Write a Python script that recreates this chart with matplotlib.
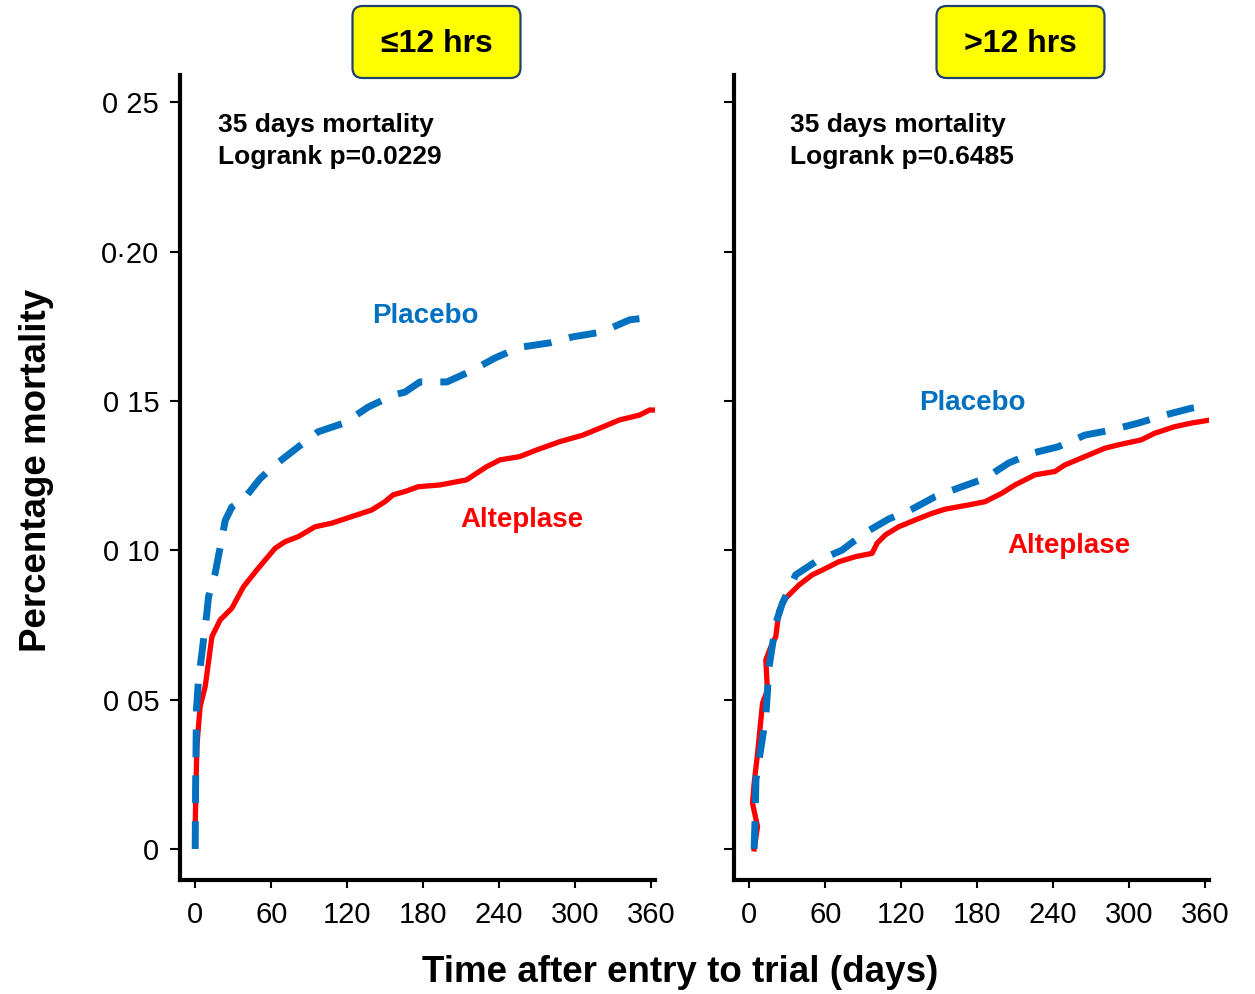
import matplotlib
matplotlib.use("Agg")
import matplotlib.pyplot as plt
from matplotlib.patches import FancyBboxPatch
from matplotlib.transforms import IdentityTransform
from matplotlib import font_manager

plt.rcParams['font.family'] = ['Liberation Sans', 'DejaVu Sans']

_names = {f.name for f in font_manager.fontManager.ttflist}
TICK_FAMILY = ['Liberation Sans Narrow', 'Liberation Sans'] if 'Liberation Sans Narrow' in _names \
    else ['Liberation Sans']
TICK_SIZE = 24 if 'Liberation Sans Narrow' in _names else 21

# ---------------- data ----------------
x_ticks = [0, 60, 120, 180, 240, 300, 360]
x_tick_labels = ["0", "60", "120", "180", "240", "300", "360"]
y_ticks = [0.0, 0.05, 0.10, 0.15, 0.20, 0.25]
y_tick_labels = ["0", "0 05", "0 10", "0 15", "0·20", "0 25"]

# <=12 hrs panel
le_placebo_days = [0, 0.3, 1, 2.6, 5.3, 9.2, 10.5, 15.8, 19.7, 23.7, 28.9, 38, 51.2, 63,
                   81.2, 97, 118, 136.6, 156.5, 165.6, 177.4, 198.7, 219.5, 236.5, 256.2,
                   280, 298, 320.9, 343, 363]
le_placebo_mort = [0, 0.020, 0.0466, 0.0566, 0.0656, 0.079, 0.0844, 0.0924, 0.101, 0.110,
                   0.1145, 0.117, 0.124, 0.1286, 0.1346, 0.1397, 0.1427, 0.148, 0.152, 0.153,
                   0.1564, 0.1564, 0.1604, 0.1644, 0.168, 0.1695, 0.1715, 0.1731, 0.1772, 0.1782]
le_alteplase_days = [0, 1.3, 3.9, 7.9, 13.2, 19.7, 28.9, 38.1, 48.6, 56.5, 63.1, 71, 81.4,
                     94.6, 107.8, 123.5, 139.3, 149.8, 156.3, 165.6, 176, 193.2, 214.2, 230,
                     240.5, 256.2, 269.4, 287.8, 306.1, 319.3, 335.1, 350.8, 358.7, 366]
le_alteplase_mort = [0.008, 0.0343, 0.0477, 0.0544, 0.0711, 0.0767, 0.0806, 0.0878, 0.0934,
                     0.0974, 0.1007, 0.1029, 0.1046, 0.1079, 0.1091, 0.1113, 0.1135, 0.1163,
                     0.1186, 0.1197, 0.1213, 0.1219, 0.1236, 0.128, 0.1303, 0.1314, 0.1336,
                     0.1364, 0.1386, 0.1409, 0.1437, 0.1453, 0.147, 0.147]

# >12 hrs panel
gt_placebo_days = [3.9, 4.7, 5.3, 13.1, 15.7, 21, 26.2, 36.7, 52.5, 73.4, 91.8, 110.2, 128.5,
                   146.9, 167.8, 186.2, 204.6, 223, 244, 265, 286, 307, 328, 349, 364.5]
gt_placebo_mort = [0, 0.0108, 0.0231, 0.0443, 0.061, 0.0756, 0.0823, 0.0918, 0.0962, 0.1001,
                   0.106, 0.1105, 0.1138, 0.118, 0.1213, 0.1241, 0.1292, 0.1325, 0.1347,
                   0.1386, 0.1403, 0.1426, 0.1453, 0.1476, 0.1487]
gt_alteplase_days = [3.9, 6.6, 2.6, 3.9, 6.6, 9.2, 10.5, 14.4, 13.1, 17.1, 21, 23.6, 28.9,
                     39.3, 49.8, 57.7, 70.8, 84, 97, 101, 107.6, 118, 131.2, 144.3, 154.8,
                     173, 186.2, 199.3, 209.8, 225.6, 241.3, 249.2, 265, 280.7, 291.1, 309.5,
                     320, 335.7, 348.8, 364.5]
gt_alteplase_mort = [0, 0.0075, 0.0153, 0.022, 0.032, 0.0432, 0.0488, 0.0532, 0.0633, 0.0677,
                     0.0711, 0.0800, 0.0840, 0.0884, 0.0918, 0.0934, 0.0962, 0.0979, 0.099,
                     0.1024, 0.1052, 0.1079, 0.1102, 0.1124, 0.1138, 0.1152, 0.1163, 0.1191,
                     0.1219, 0.1253, 0.1264, 0.1286, 0.1314, 0.1342, 0.1353, 0.137, 0.1392,
                     0.1414, 0.1426, 0.1437]

panel_titles = ["≤12 hrs", ">12 hrs"]
panel_stats = ["35 days mortality\nLogrank p=0.0229", "35 days mortality\nLogrank p=0.6485"]

# ---------------- figure ----------------
W, H = 1255, 994
fig = plt.figure(figsize=(W / 100, H / 100), dpi=100)

BLUE = "#0070C0"
RED = "#FF0000"

def fx(px):
    return px / W

def fy(py):
    return 1 - py / H

axes = []
for left_px in (180, 734):
    ax = fig.add_axes([fx(left_px), 114 / H, 475 / W, 805 / H])
    ax.set_xlim(-12, 363)
    ax.set_ylim(-0.0104, 0.2592)
    for s in ("top", "right"):
        ax.spines[s].set_visible(False)
    for s in ("left", "bottom"):
        ax.spines[s].set_linewidth(3)
        ax.spines[s].set_color("black")
    ax.set_xticks(x_ticks)
    ax.set_xticklabels(x_tick_labels, family=TICK_FAMILY, fontsize=TICK_SIZE)
    ax.set_yticks(y_ticks)
    ax.tick_params(axis="x", direction="out", length=6, width=1.5, pad=9)
    ax.tick_params(axis="y", direction="out", length=7, width=1.5, pad=8)
    axes.append(ax)

axes[0].set_yticklabels(y_tick_labels, family=TICK_FAMILY, fontsize=TICK_SIZE)
axes[1].set_yticklabels([])

dash = (4.0, 2.6)
axes[0].plot(le_alteplase_days, le_alteplase_mort, color=RED, lw=3.8, solid_joinstyle="round",
             zorder=3)
axes[0].plot(le_placebo_days, le_placebo_mort, color=BLUE, lw=5, dashes=dash,
             dash_capstyle="butt", zorder=4)
axes[1].plot(gt_alteplase_days, gt_alteplase_mort, color=RED, lw=3.8, solid_joinstyle="round",
             zorder=3)
axes[1].plot(gt_placebo_days, gt_placebo_mort, color=BLUE, lw=5, dashes=dash,
             dash_capstyle="butt", zorder=4)

# stats text
fig.text(fx(218), fy(141), panel_stats[0], fontsize=19, fontweight="bold",
         ha="left", va="center", linespacing=1.45)
fig.text(fx(790), fy(141), panel_stats[1], fontsize=19, fontweight="bold",
         ha="left", va="center", linespacing=1.45)

# series labels
fig.text(fx(425), fy(316), "Placebo", color=BLUE, fontsize=20, fontweight="bold",
         ha="center", va="center")
fig.text(fx(522), fy(520), "Alteplase", color=RED, fontsize=20, fontweight="bold",
         ha="center", va="center")
fig.text(fx(972), fy(403), "Placebo", color=BLUE, fontsize=20, fontweight="bold",
         ha="center", va="center")
fig.text(fx(1069), fy(546), "Alteplase", color=RED, fontsize=20, fontweight="bold",
         ha="center", va="center")

# axis labels
fig.text(fx(37), fy(470), "Percentage mortality", rotation=90, fontsize=26.5,
         fontweight="bold", ha="center", va="center")
fig.text(fx(680), fy(972), "Time after entry to trial (days)", fontsize=26.5,
         fontweight="bold", ha="center", va="center")

# header boxes
for cx, title in zip((436.5, 1020.5), panel_titles):
    bw, bh = 168, 72
    x0 = cx - bw / 2
    y0 = H - 78
    box = FancyBboxPatch((x0 + 10, y0 + 10), bw - 20, bh - 20,
                         boxstyle="round,pad=10", transform=IdentityTransform(),
                         facecolor="#FFFF00", edgecolor="#1F3F6E", linewidth=1.6)
    fig.patches.append(box)
    fig.text(fx(cx), fy(44), title, fontsize=23, fontweight="bold",
             ha="center", va="center")

fig.savefig("out.png", dpi=100)
